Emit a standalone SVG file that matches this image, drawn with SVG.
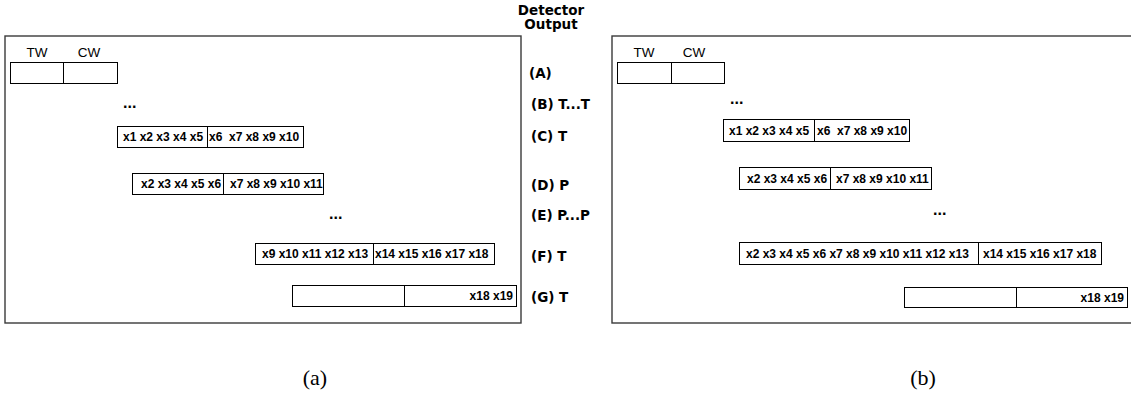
<svg xmlns="http://www.w3.org/2000/svg" width="1131" height="415" viewBox="0 0 1131 415">
<style>
.frame{fill:none;stroke:#3a3a3a;stroke-width:1.4}
.box{fill:#fff;stroke:#000;stroke-width:1}
.div{stroke:#000;stroke-width:1}
.x{font-family:"Liberation Sans",Arial,sans-serif;font-weight:bold;font-size:12px;fill:#000;white-space:pre}
.w{font-family:"Liberation Sans",Arial,sans-serif;font-size:13.5px;fill:#000}
.lab{font-family:"DejaVu Sans",Verdana,sans-serif;font-weight:bold;font-size:13.5px;fill:#000}
.dots{font-family:"Liberation Sans",Arial,sans-serif;font-weight:bold;font-size:16px;fill:#000}
.cap{font-family:"Liberation Serif","Times New Roman",serif;font-size:22px;fill:#000}
</style>
<g id="panel-a">
<rect class="frame" x="5" y="36" width="516" height="287"/>
<g id="a-A">
<text class="w" x="37" y="57" text-anchor="middle">TW</text>
<text class="w" x="89" y="57" text-anchor="middle">CW</text>
<rect class="box" x="10.5" y="62.5" width="107" height="21"/>
<line class="div" x1="63.5" y1="62.5" x2="63.5" y2="83.5"/>
</g>
<text class="dots" x="123" y="108">...</text>
<g id="a-C">
<rect class="box" x="117.5" y="126.5" width="186" height="21"/>
<line class="div" x1="207.5" y1="126.5" x2="207.5" y2="147.5"/>
<text class="x" x="123" y="141">x1 x2 x3 x4 x5</text>
<text class="x" x="209" y="141">x6  x7 x8 x9 x10</text>
</g>
<g id="a-D">
<rect class="box" x="132.5" y="173.5" width="191" height="21"/>
<line class="div" x1="223.5" y1="173.5" x2="223.5" y2="194.5"/>
<text class="x" x="141" y="188">x2 x3 x4 x5 x6</text>
<text class="x" x="230" y="188">x7 x8 x9 x10 x11</text>
</g>
<text class="dots" x="329" y="219">...</text>
<g id="a-F">
<rect class="box" x="255.5" y="243.5" width="239" height="21"/>
<line class="div" x1="373.5" y1="243.5" x2="373.5" y2="264.5"/>
<text class="x" x="262" y="258">x9 x10 x11 x12 x13</text>
<text class="x" x="375" y="258">x14 x15 x16 x17 x18</text>
</g>
<g id="a-G">
<rect class="box" x="292.5" y="285.5" width="224" height="21"/>
<line class="div" x1="404.5" y1="285.5" x2="404.5" y2="306.5"/>
<text class="x" x="513" y="300" text-anchor="end">x18 x19</text>
</g>
</g>
<g id="detector">
<text class="lab" x="551" y="15" text-anchor="middle">Detector</text>
<text class="lab" x="551" y="29" text-anchor="middle">Output</text>
<text class="lab" x="529" y="78">(A)</text>
<text class="lab" x="531" y="109">(B) T...T</text>
<text class="lab" x="531" y="141">(C) T</text>
<text class="lab" x="531" y="190">(D) P</text>
<text class="lab" x="531" y="220">(E) P...P</text>
<text class="lab" x="531" y="261">(F) T</text>
<text class="lab" x="531" y="302">(G) T</text>
</g>
<g id="panel-b">
<rect class="frame" x="612" y="36" width="530" height="287"/>
<g id="b-A">
<text class="w" x="644" y="57" text-anchor="middle">TW</text>
<text class="w" x="694" y="57" text-anchor="middle">CW</text>
<rect class="box" x="617.5" y="62.5" width="107" height="21"/>
<line class="div" x1="671.5" y1="62.5" x2="671.5" y2="83.5"/>
</g>
<text class="dots" x="730" y="104">...</text>
<g id="b-C">
<rect class="box" x="723.5" y="119.5" width="186" height="22"/>
<line class="div" x1="814.5" y1="119.5" x2="814.5" y2="141.5"/>
<text class="x" x="729" y="135">x1 x2 x3 x4 x5</text>
<text class="x" x="817" y="135">x6  x7 x8 x9 x10</text>
</g>
<g id="b-D">
<rect class="box" x="739.5" y="167.5" width="192" height="22"/>
<line class="div" x1="830.5" y1="167.5" x2="830.5" y2="189.5"/>
<text class="x" x="747" y="183">x2 x3 x4 x5 x6</text>
<text class="x" x="836" y="183">x7 x8 x9 x10 x11</text>
</g>
<text class="dots" x="933" y="215">...</text>
<g id="b-F">
<rect class="box" x="739.5" y="242.5" width="362" height="22"/>
<line class="div" x1="978.5" y1="242.5" x2="978.5" y2="264.5"/>
<text class="x" x="746" y="258">x2 x3 x4 x5 x6 x7 x8 x9 x10 x11 x12 x13</text>
<text class="x" x="983" y="258">x14 x15 x16 x17 x18</text>
</g>
<g id="b-G">
<rect class="box" x="904.5" y="287.5" width="223" height="20"/>
<line class="div" x1="1016.5" y1="287.5" x2="1016.5" y2="307.5"/>
<text class="x" x="1124" y="302" text-anchor="end">x18 x19</text>
</g>
</g>
<g id="captions">
<text class="cap" x="315" y="385" text-anchor="middle">(a)</text>
<text class="cap" x="923" y="385" text-anchor="middle">(b)</text>
</g>
<g id="connectors"/>
</svg>
